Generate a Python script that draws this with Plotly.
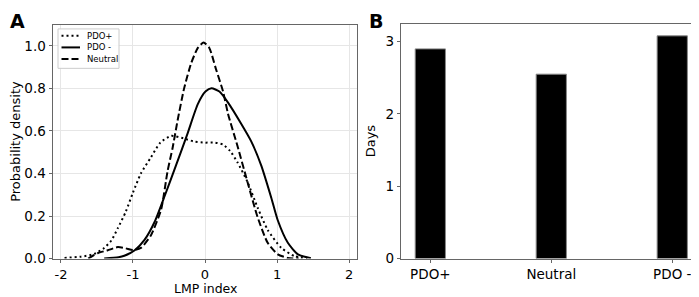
import plotly.graph_objects as go

# ---- Panel A data: kernel density curves ----
pdo_pos_x = [-1.95, -1.72, -1.54, -1.40, -1.30, -1.21, -1.10, -1.00, -0.89, -0.75, -0.62, -0.47,
             -0.30, -0.15, 0.00, 0.13, 0.25, 0.35, 0.45, 0.59, 0.73, 0.87, 1.06, 1.24, 1.42]
pdo_pos_y = [0.003, 0.009, 0.021, 0.050, 0.085, 0.143, 0.220, 0.310, 0.400, 0.476, 0.545, 0.577,
             0.565, 0.550, 0.545, 0.545, 0.536, 0.505, 0.453, 0.360, 0.240, 0.135, 0.050, 0.012, 0.000]

pdo_neg_x = [-1.40, -1.20, -1.12, -0.98, -0.84, -0.70, -0.56, -0.40, -0.24, -0.10, 0.01, 0.09,
             0.20, 0.32, 0.50, 0.64, 0.78, 0.92, 1.01, 1.15, 1.29, 1.47]
pdo_neg_y = [0.000, 0.006, 0.013, 0.038, 0.088, 0.172, 0.294, 0.440, 0.590, 0.726, 0.786, 0.800,
             0.785, 0.733, 0.635, 0.552, 0.438, 0.286, 0.180, 0.074, 0.020, 0.002]

neutral_x = [-1.62, -1.49, -1.35, -1.21, -1.10, -1.00, -0.89, -0.75, -0.61, -0.52, -0.45, -0.38,
             -0.29, -0.19, -0.10, -0.02, 0.06, 0.15, 0.25, 0.32, 0.45, 0.59, 0.73, 0.87, 1.01,
             1.15, 1.30]
neutral_y = [0.000, 0.025, 0.039, 0.054, 0.048, 0.040, 0.050, 0.110, 0.230, 0.410, 0.520, 0.650,
             0.800, 0.920, 0.990, 1.015, 0.990, 0.893, 0.786, 0.680, 0.530, 0.360, 0.195, 0.074,
             0.020, 0.003, 0.000]

# ---- Panel B data ----
categories = ["PDO+", "Neutral", "PDO -"]
days = [2.90, 2.55, 3.08]

x_ticks_a = [-2, -1, 0, 1, 2]
x_ticktext_a = ["-2", "-1", "0", "1", "2"]
y_ticks_a = [0.0, 0.2, 0.4, 0.6, 0.8, 1.0]
y_ticks_b = [0, 1, 2, 3]

series_names = ["PDO+", "PDO -", "Neutral"]
series_dash = ["2px,3px", "solid", "7px,3px"]

FONT = "DejaVu Sans"
SPINE = "#666666"
GRID = "#e6e6e6"
W, H = 699, 297

fig = go.Figure()

line_kw = dict(mode="lines", line_shape="spline", xaxis="x", yaxis="y", showlegend=False)
for xs, ys, nm, dsh in zip([pdo_pos_x, pdo_neg_x, neutral_x], [pdo_pos_y, pdo_neg_y, neutral_y],
                           series_names, series_dash):
    fig.add_trace(go.Scatter(x=xs, y=ys, name=nm,
                             line=dict(color="black", width=2, dash=dsh, smoothing=0.6), **line_kw))

fig.add_trace(go.Bar(x=categories, y=days, width=0.25, xaxis="x2", yaxis="y2",
                     marker=dict(color="black", line=dict(color="#888888", width=1)),
                     showlegend=False))

axis_common = dict(showline=True, linecolor=SPINE, linewidth=1, mirror=True,
                   ticks="outside", ticklen=3.5, tickcolor=SPINE, tickwidth=1,
                   zeroline=False)
tick13 = dict(family=FONT, size=13, color="black")
tick135 = dict(family=FONT, size=13.5, color="black")


def px(x):
    return x / W


def py(y):
    return (H - y) / H


# custom matplotlib-like legend (box + sample lines + labels), in paper coords
shapes = [dict(type="rect", xref="paper", yref="paper", x0=px(50), x1=px(111), y0=py(62), y1=py(21.5),
               line=dict(color="#cccccc", width=1), fillcolor="rgba(255,255,255,0.85)", layer="above")]
annotations = []
row_y = [28.5, 40.5, 52.5]
for ry, nm, dsh in zip(row_y, series_names, series_dash):
    shapes.append(dict(type="line", xref="paper", yref="paper", x0=px(53.5), x1=px(72), y0=py(ry), y1=py(ry),
                       line=dict(color="black", width=2, dash=dsh), layer="above"))
    annotations.append(dict(text=nm, x=px(77), y=py(ry), xref="paper", yref="paper",
                            xanchor="left", yanchor="middle", showarrow=False,
                            font=dict(family=FONT, size=8.5, color="black")))

annotations += [
    dict(text="<b>A</b>", x=0, y=1.0, xref="paper", yref="paper",
         xanchor="left", yanchor="top", showarrow=False,
         font=dict(family=FONT, size=19, color="black")),
    dict(text="<b>B</b>", x=px(359), y=1.0, xref="paper", yref="paper",
         xanchor="left", yanchor="top", showarrow=False,
         font=dict(family=FONT, size=19, color="black")),
    # x-axis title of panel A, placed against the bottom edge
    dict(text="LMP index", x=px(197), y=0, xref="paper", yref="paper",
         xanchor="center", yanchor="bottom", showarrow=False, borderpad=0,
         font=dict(family=FONT, size=12.5, color="black")),
]

BOTTOM = 257.5

fig.update_layout(
    width=W, height=H,
    margin=dict(l=0, r=0, t=0, b=0),
    paper_bgcolor="white", plot_bgcolor="white",
    font=dict(family=FONT, size=13, color="black"),
    showlegend=False,
    xaxis=dict(domain=[px(45), px(349)], range=[-2.11, 2.11], tickvals=x_ticks_a,
               ticktext=x_ticktext_a, showgrid=True, gridcolor=GRID, gridwidth=1,
               tickfont=tick13, anchor="y", **axis_common),
    yaxis=dict(domain=[py(BOTTOM), py(17)], range=[0, 1.1], tickvals=y_ticks_a,
               tickformat=".1f", showgrid=True, gridcolor=GRID, gridwidth=1, tickfont=tick135,
               title=dict(text="Probability density", font=dict(family=FONT, size=13), standoff=4),
               anchor="x", **axis_common),
    xaxis2=dict(domain=[px(393.3), px(693.3)], range=[-0.24, 2.24], type="category",
                showgrid=False, tickfont=tick135, anchor="y2", **axis_common),
    yaxis2=dict(domain=[py(BOTTOM), py(16)], range=[0, 3.25], tickvals=y_ticks_b,
                showgrid=False, tickfont=tick135,
                title=dict(text="Days", font=dict(family=FONT, size=13), standoff=6),
                anchor="x2", **axis_common),
    shapes=shapes,
    annotations=annotations,
)

fig.write_html("out.html")
